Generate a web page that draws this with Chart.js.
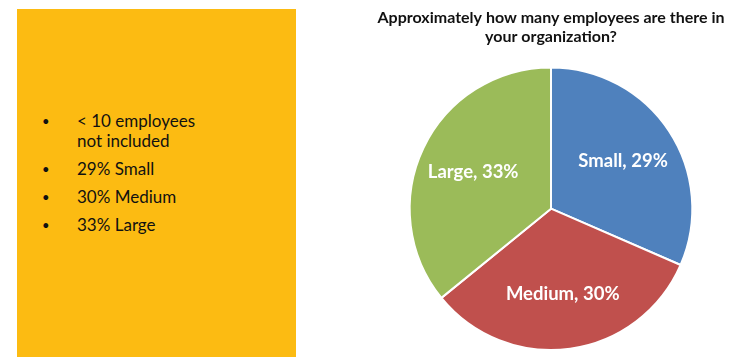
<!DOCTYPE html>
<html>
<head>
<meta charset="utf-8">
<script src="https://cdn.jsdelivr.net/npm/chart.js@4/dist/chart.umd.min.js"></script>
<style>
  html, body { margin: 0; padding: 0; background: #ffffff; }
  body { width: 746px; height: 357px; position: relative; overflow: hidden; font-family: Lato, "Open Sans", sans-serif; }
  #note {
    position: absolute; left: 17px; top: 9px; width: 279px; height: 348px;
    background: #FCBB12;
  }
  #note ul { list-style: none; margin: 0; padding: 0; position: absolute; left: 0; top: 102px; }
  #note li { position: relative; padding-left: 60px; font-size: 17px; line-height: 20px; color: #111; margin-bottom: 8px; }
  #note li::before { content: "•"; position: absolute; left: 25px; top: 0; font-size: 13px; }
  #wrap { position: absolute; left: 356px; top: 0; width: 390px; height: 357px; }
</style>
</head>
<body>
<div id="note"><ul id="notes"></ul></div>
<div id="wrap"><canvas id="c"></canvas></div>
<script>
// Company-size breakdown of survey respondents
const categories = ['Small', 'Medium', 'Large'];
const shares = [29, 30, 33];
const sliceColors = ['#4F81BD', '#C0504D', '#9BBB59'];
const titleLines = ['Approximately how many employees are there in', 'your organization?'];
const notes = ['< 10 employees<br>not included', '29% Small', '30% Medium', '33% Large'];

document.getElementById('notes').innerHTML = notes.map(n => '<li>' + n + '</li>').join('');

// Writes "Category, NN%" inside each slice
const sliceLabels = {
  id: 'sliceLabels',
  afterDatasetsDraw(chart) {
    const ctx = chart.ctx;
    const meta = chart.getDatasetMeta(0);
    ctx.save();
    ctx.font = 'bold 18.5px Lato, "Open Sans", sans-serif';
    ctx.fillStyle = '#ffffff';
    ctx.textAlign = 'center';
    ctx.textBaseline = 'middle';
    meta.data.forEach((arc, i) => {
      const p = arc.getProps(['x', 'y', 'startAngle', 'endAngle', 'outerRadius'], true);
      const mid = (p.startAngle + p.endAngle) / 2;
      const r = p.outerRadius * 0.61;
      ctx.fillText(categories[i] + ', ' + shares[i] + '%', p.x + Math.cos(mid) * r, p.y + Math.sin(mid) * r);
    });
    ctx.restore();
  }
};

new Chart(document.getElementById('c'), {
  type: 'pie',
  data: {
    labels: categories,
    datasets: [{
      data: shares,
      backgroundColor: sliceColors,
      borderColor: '#ffffff',
      borderWidth: 2
    }]
  },
  options: {
    responsive: true,
    maintainAspectRatio: false,
    animation: false,
    layout: { padding: { bottom: 6 } },
    plugins: {
      legend: { display: false },
      tooltip: { enabled: false },
      title: {
        display: true,
        text: titleLines,
        color: '#111111',
        font: { family: 'Lato, "Open Sans", sans-serif', size: 16, weight: 'bold', lineHeight: 1.2 },
        padding: { top: 8, bottom: 20 }
      }
    }
  },
  plugins: [sliceLabels]
});
</script>
</body>
</html>
